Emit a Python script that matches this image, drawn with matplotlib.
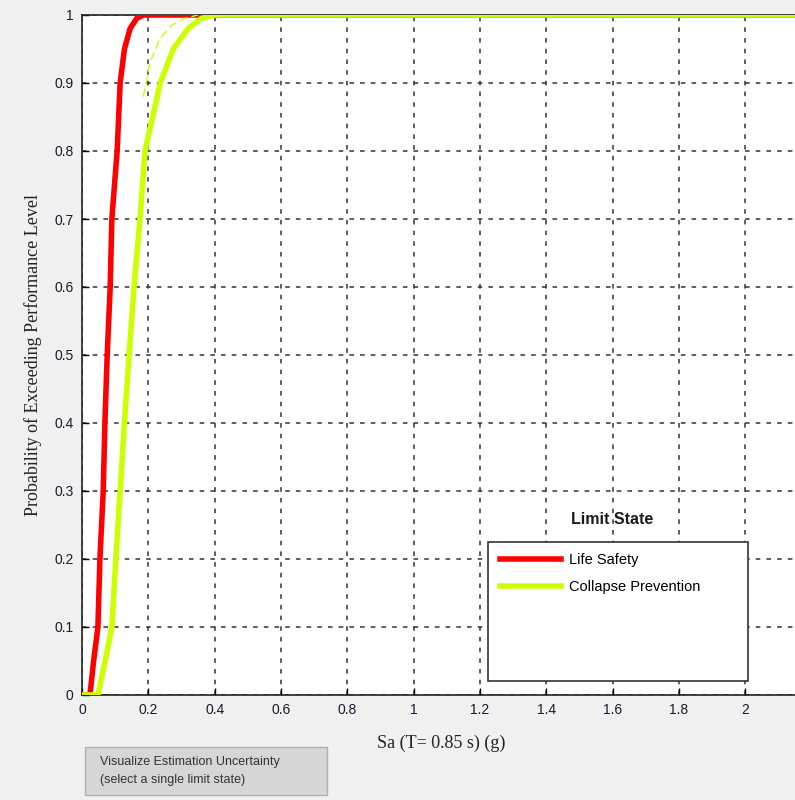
import matplotlib
matplotlib.use("Agg")
import matplotlib.pyplot as plt
from matplotlib.patches import Rectangle
from matplotlib.lines import Line2D

# fragility curves
ls_sa = [0.0, 0.024, 0.035, 0.048, 0.054, 0.064, 0.069, 0.076, 0.085, 0.090,
         0.106, 0.115, 0.128, 0.145, 0.165, 0.185, 2.2]
ls_p = [0.0, 0.0, 0.05, 0.10, 0.20, 0.30, 0.40, 0.50, 0.60, 0.70,
        0.80, 0.90, 0.95, 0.98, 0.995, 1.0, 1.0]

cp_sa = [0.0, 0.048, 0.070, 0.090, 0.102, 0.115, 0.128, 0.142, 0.157, 0.175,
         0.190, 0.236, 0.275, 0.320, 0.360, 0.400, 2.2]
cp_p = [0.0, 0.0, 0.05, 0.10, 0.20, 0.30, 0.40, 0.50, 0.60, 0.70,
        0.80, 0.90, 0.95, 0.98, 0.995, 1.0, 1.0]

# faint uncertainty trace near the top of the collapse curve
cp_unc_sa = [0.185, 0.205, 0.235, 0.270, 0.310, 0.350]
cp_unc_p = [0.88, 0.93, 0.965, 0.985, 0.995, 1.0]

xticks = [0, 0.2, 0.4, 0.6, 0.8, 1.0, 1.2, 1.4, 1.6, 1.8, 2.0]
xticklabels = ["0", "0.2", "0.4", "0.6", "0.8", "1", "1.2", "1.4", "1.6", "1.8", "2"]
yticks = [0, 0.1, 0.2, 0.3, 0.4, 0.5, 0.6, 0.7, 0.8, 0.9, 1.0]
yticklabels = ["0", "0.1", "0.2", "0.3", "0.4", "0.5", "0.6", "0.7", "0.8", "0.9", "1"]

RED = "#ff0000"
YEL = "#ccff00"
BG = "#f0f0f0"

fig = plt.figure(figsize=(7.95, 8.0), dpi=100)
fig.patch.set_facecolor(BG)

W, H = 795, 800
AX_W, AX_H = W - 82, 695 - 15
ax = fig.add_axes([82 / W, 1 - 695 / H, AX_W / W, AX_H / H])
ax.set_facecolor("white")


def ax_xy(px, py):
    # pixel position in the figure -> axes fraction
    return (px - 82) / AX_W, (695 - py) / AX_H


ax.plot(ls_sa, ls_p, color=RED, lw=4, solid_joinstyle="miter", zorder=3)
ax.plot(cp_sa, cp_p, color=YEL, lw=4, solid_joinstyle="miter", zorder=3)
ax.plot(cp_unc_sa, cp_unc_p, color=YEL, lw=1, ls=(0, (6, 3)), zorder=3)

ax.set_xlim(0, 2.15)
ax.set_ylim(0, 1)
ax.set_xticks(xticks)
ax.set_xticklabels(xticklabels)
ax.set_yticks(yticks)
ax.set_yticklabels(yticklabels)
ax.tick_params(direction="in", length=5, width=1, labelsize=10,
               labelcolor="#1a1a2e", pad=6, top=False, right=False)
for lab in ax.get_xticklabels() + ax.get_yticklabels():
    lab.set_family(["Liberation Sans", "DejaVu Sans"])

ax.grid(True, color="#333333", lw=1.1, ls=(0, (3, 4)))
ax.set_axisbelow(True)
for side in ("left", "bottom", "top"):
    ax.spines[side].set_color("#222222")
    ax.spines[side].set_linewidth(1.2)
ax.spines["right"].set_visible(False)

ax.set_xlabel("Sa (T= 0.85 s) (g)", family="Liberation Serif", fontsize=13,
              color="#222222")
ax.xaxis.set_label_coords(*ax_xy(441, 735))
ax.set_ylabel("Probability of Exceeding Performance Level",
              family="Liberation Serif", fontsize=13, color="#222222")
ax.yaxis.set_label_coords(*ax_xy(42, 355))

# legend panel drawn like the original GUI: fixed white box + title above
bx0, by0 = ax_xy(488, 681)
bx1, by1 = ax_xy(748, 542)
ax.add_patch(Rectangle((bx0, by0), bx1 - bx0, by1 - by0,
                       transform=ax.transAxes, facecolor="white",
                       edgecolor="#333333", lw=1.2, zorder=4))
handles = [Line2D([], [], color=RED, lw=4), Line2D([], [], color=YEL, lw=4)]
leg = ax.legend(handles, ["Life Safety", "Collapse Prevention"],
                loc="upper left", bbox_to_anchor=ax_xy(500, 553),
                frameon=False, handlelength=4.2, handletextpad=0.55,
                borderpad=0.0, borderaxespad=0.0, labelspacing=0.9,
                prop={"family": "Liberation Sans", "size": 10.5})
leg.set_zorder(5)
ax.text(*ax_xy(612, 520), "Limit State",
        transform=ax.transAxes, ha="center", va="center", fontsize=11.5,
        fontweight="bold", family=["Liberation Sans", "DejaVu Sans"],
        color="#1a1a1a", zorder=6)

# GUI button below the plot
fig.patches.append(Rectangle((85 / W, 1 - 795 / H), (327 - 85) / W, (795 - 747) / H,
                             transform=fig.transFigure, facecolor="#d6d6d6",
                             edgecolor="#b0b0b0", lw=1))
fig.text(100 / W, 1 - 762 / H, "Visualize Estimation Uncertainty",
         ha="left", va="center", fontsize=9, color="#333333",
         family=["Liberation Sans", "DejaVu Sans"])
fig.text(100 / W, 1 - 780 / H, "(select a single limit state)",
         ha="left", va="center", fontsize=9, color="#333333",
         family=["Liberation Sans", "DejaVu Sans"])

fig.savefig("out.png", dpi=100, facecolor=BG)
